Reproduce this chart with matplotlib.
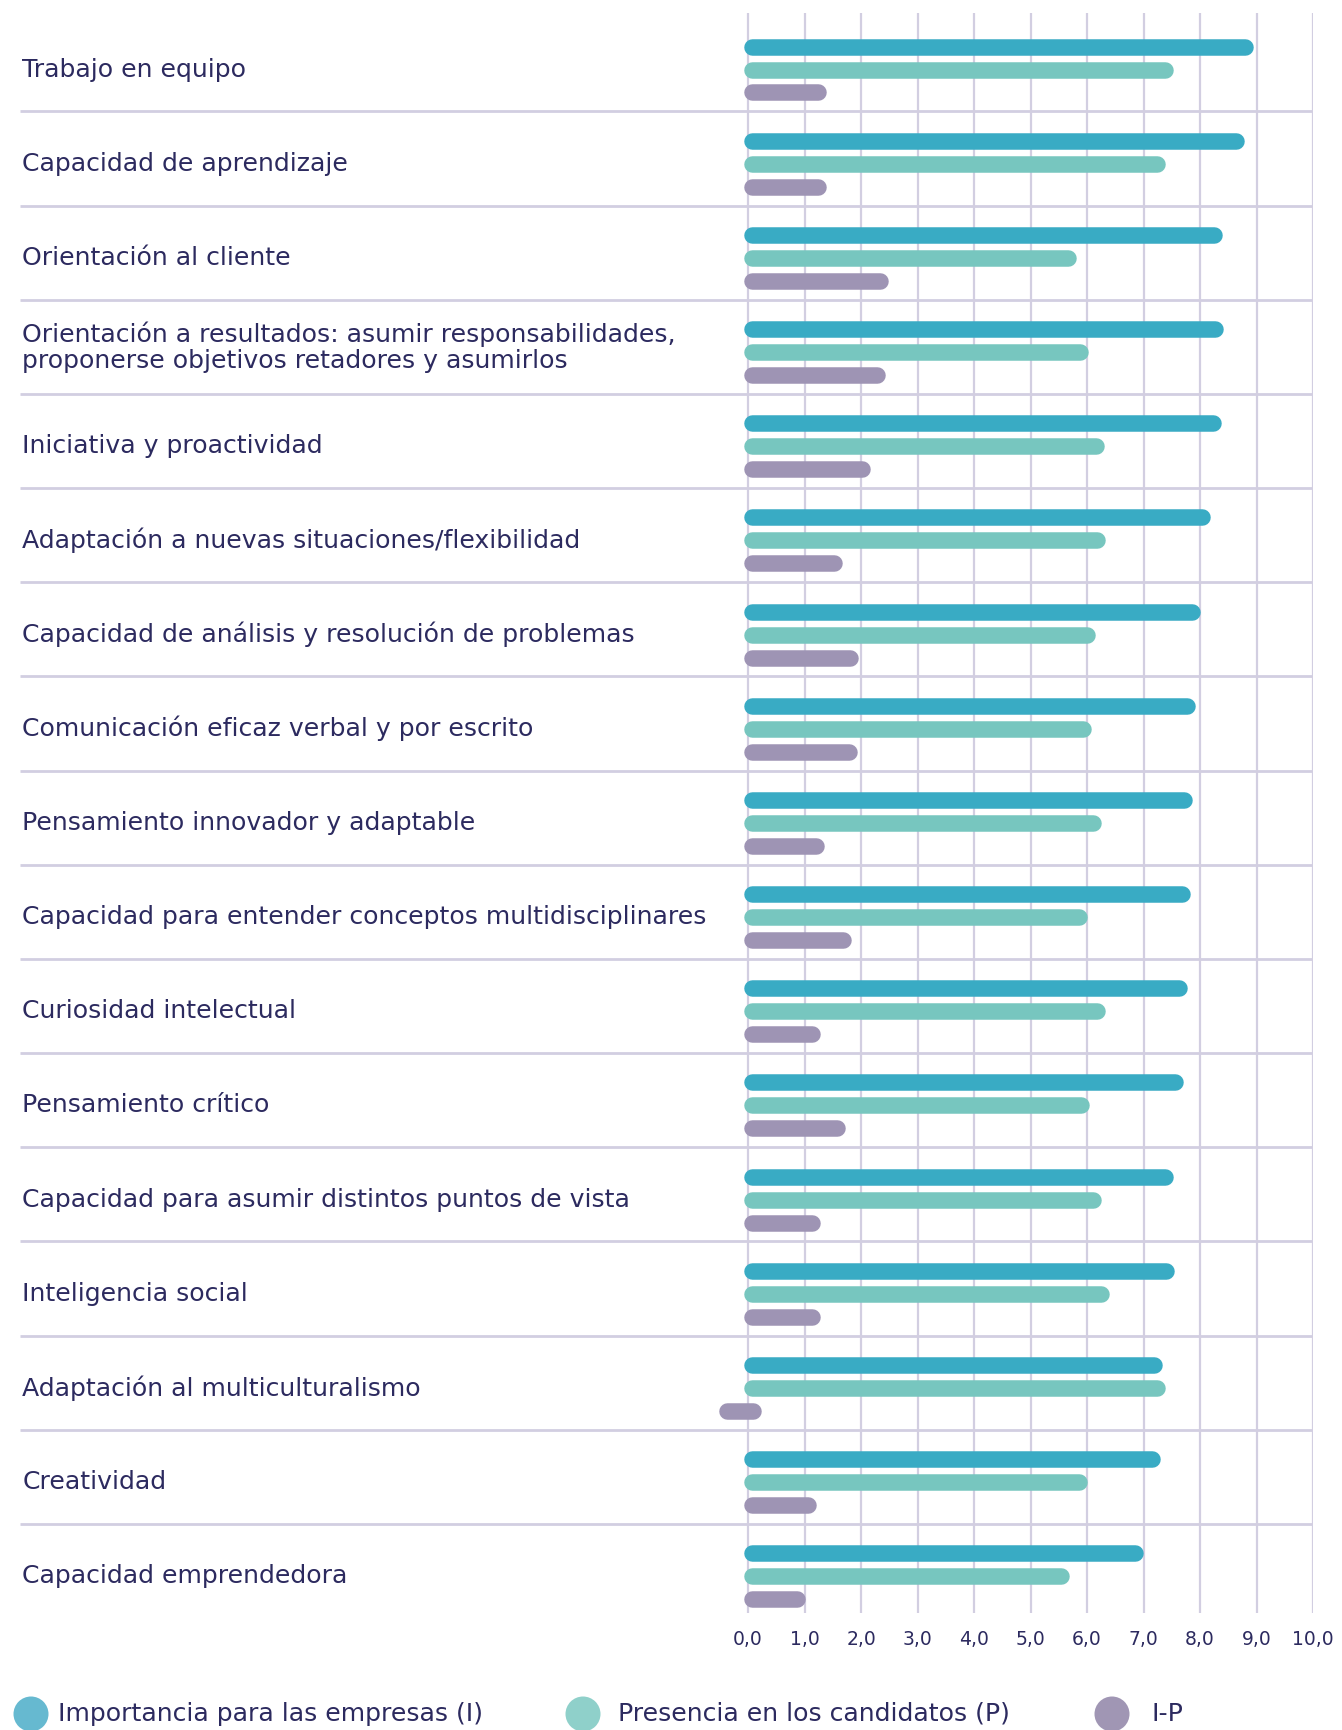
import matplotlib
matplotlib.use("Agg")
import matplotlib.pyplot as plt
from matplotlib.patches import Circle
import numpy as np

categories = [
    "Trabajo en equipo",
    "Capacidad de aprendizaje",
    "Orientación al cliente",
    "Orientación a resultados: asumir responsabilidades,\nproponerse objetivos retadores y asumirlos",
    "Iniciativa y proactividad",
    "Adaptación a nuevas situaciones/flexibilidad",
    "Capacidad de análisis y resolución de problemas",
    "Comunicación eficaz verbal y por escrito",
    "Pensamiento innovador y adaptable",
    "Capacidad para entender conceptos multidisciplinares",
    "Curiosidad intelectual",
    "Pensamiento crítico",
    "Capacidad para asumir distintos puntos de vista",
    "Inteligencia social",
    "Adaptación al multiculturalismo",
    "Creatividad",
    "Capacidad emprendedora",
]
importancia = [8.94, 8.78, 8.40, 8.42, 8.38, 8.18, 8.01, 7.91, 7.87, 7.83, 7.77, 7.70, 7.52, 7.54, 7.34, 7.29, 6.99]
presencia = [7.52, 7.39, 5.80, 6.02, 6.31, 6.33, 6.15, 6.07, 6.25, 6.00, 6.33, 6.04, 6.25, 6.39, 7.38, 6.00, 5.68]
diferencia = [1.39, 1.39, 2.48, 2.42, 2.17, 1.66, 1.95, 1.93, 1.35, 1.82, 1.27, 1.72, 1.27, 1.27, -0.45, 1.21, 1.02]
series_names = ["Importancia para las empresas (I)", "Presencia en los candidatos (P)", "I-P"]
ticks = [0, 1, 2, 3, 4, 5, 6, 7, 8, 9, 10]
tick_labels = ["0,0", "1,0", "2,0", "3,0", "4,0", "5,0", "6,0", "7,0", "8,0", "9,0", "10,0"]

bar_colors = ["#39ABC4", "#77C6BF", "#9E94B4"]
legend_colors = ["#66B9D0", "#8FD0CA", "#A096B4"]
grid_color = "#D2CEE1"
text_color = "#2C2A5F"
FONT = ["DejaVu Sans"]

W, H, DPI = 1342, 1730, 100
fig = plt.figure(figsize=(W / DPI, H / DPI), dpi=DPI)
fig.patch.set_facecolor("white")

left_px, right_px, top_px, bottom_px = 20, 1313, 13, 1613
ax = fig.add_axes([left_px / W, 1 - bottom_px / H, (right_px - left_px) / W, (bottom_px - top_px) / H])
n = len(categories)
x_min = -12.89
ax.set_xlim(x_min, 10)
ax.set_ylim(n - 1 + 0.39, -0.6)
for s in ax.spines.values():
    s.set_visible(False)
ax.set_facecolor("none")

# vertical grid
for t in ticks:
    ax.axvline(t, color=grid_color, lw=1.6, zorder=1)
# separators
for i in range(n - 1):
    ax.plot([x_min, 10], [i + 0.445, i + 0.445], color=grid_color, lw=2.0, zorder=1, solid_capstyle="butt")

# bars as pills
px_per_unit = (right_px - left_px) / (10 - x_min)
thick_px = 16.5
r = thick_px / 2 / px_per_unit
lw_pt = thick_px * 72 / DPI
offsets = [-0.244, 0.0, 0.244]
for k, vals in enumerate([importancia, presencia, diferencia]):
    for i, v in enumerate(vals):
        x0 = min(v, 0) - 0.07
        x1 = max(v, 0.24)
        ax.plot([x0 + r, x1 - r], [i + offsets[k], i + offsets[k]], color=bar_colors[k],
                lw=lw_pt, solid_capstyle="round", zorder=3)

# category labels
for i, c in enumerate(categories):
    dy = -0.05 if "\n" in c else 0.0
    ax.text(-12.85, i + dy, c, ha="left", va="center", fontsize=18.1, color=text_color,
            family=FONT, linespacing=1.12)

ax.set_yticks([])
ax.set_xticks(ticks)
ax.set_xticklabels(tick_labels, fontsize=13.5, color=text_color, family=FONT)
ax.tick_params(axis="x", length=0, pad=12)

# legend
lax = fig.add_axes([0, 0, 1, 1])
lax.set_xlim(0, W)
lax.set_ylim(H, 0)
lax.axis("off")
leg_circle_x = [31, 583, 1112]
leg_text_x = [58, 618, 1152]
leg_y = 1714
for k in range(3):
    lax.add_patch(Circle((leg_circle_x[k], leg_y), 17.5, color=legend_colors[k], lw=0))
    lax.text(leg_text_x[k], leg_y, series_names[k], ha="left", va="center", fontsize=18.1,
             color=text_color, family=FONT)

fig.savefig("out.png", dpi=DPI, facecolor="white")
